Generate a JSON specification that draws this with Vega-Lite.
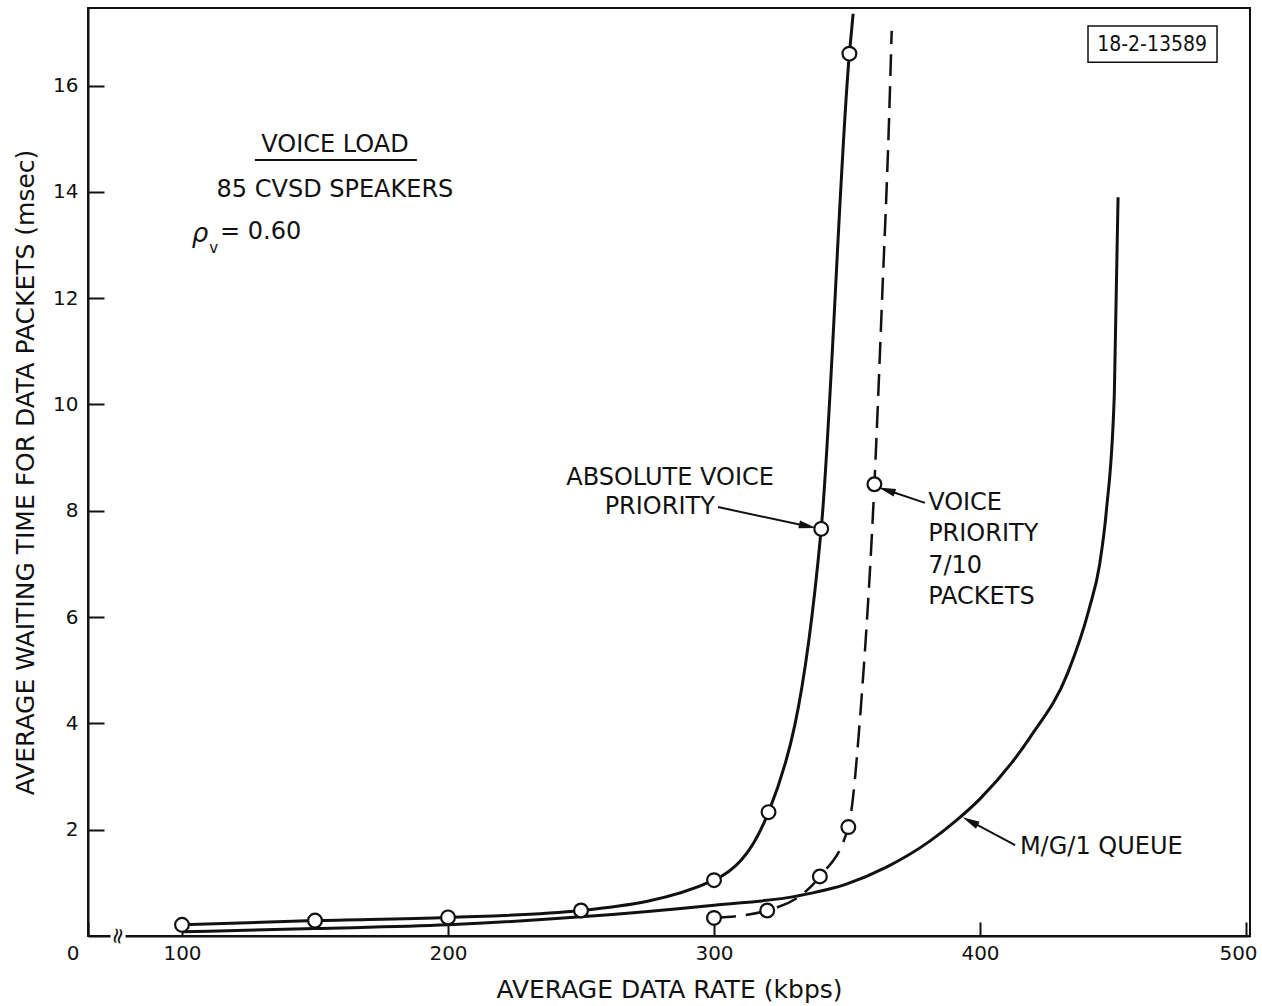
{
  "$schema": "https://vega.github.io/schema/vega-lite/v6.json",
  "width": 1162,
  "height": 928,
  "autosize": "none",
  "padding": {"left": 88, "top": 8, "right": 12, "bottom": 70},
  "background": "white",
  "config": {
    "view": {"stroke": "#111", "strokeWidth": 2},
    "font": "DejaVu Sans",
    "axis": {"grid": false, "domainColor": "#111", "domainWidth": 2, "tickColor": "#111", "tickWidth": 2, "labelColor": "#111", "titleColor": "#111", "labelFont": "DejaVu Sans", "titleFont": "DejaVu Sans", "labelFontSize": 20, "titleFontSize": 25, "titleFontWeight": "normal"}
  },
  "datasets": {
    "curves": [
      {"series": "abs", "x": 100, "y": 0.21},
      {"series": "abs", "x": 150, "y": 0.29},
      {"series": "abs", "x": 200, "y": 0.35},
      {"series": "abs", "x": 250, "y": 0.48},
      {"series": "abs", "x": 300, "y": 1.05},
      {"series": "abs", "x": 320.5, "y": 2.33},
      {"series": "abs", "x": 340.3, "y": 7.66},
      {"series": "abs", "x": 350.9, "y": 16.6},
      {"series": "abs", "x": 352.3, "y": 17.35},
      {"series": "mg1", "x": 100, "y": 0.08},
      {"series": "mg1", "x": 150, "y": 0.14},
      {"series": "mg1", "x": 200, "y": 0.21},
      {"series": "mg1", "x": 250, "y": 0.36},
      {"series": "mg1", "x": 300, "y": 0.58},
      {"series": "mg1", "x": 331, "y": 0.75},
      {"series": "mg1", "x": 350, "y": 0.98},
      {"series": "mg1", "x": 365, "y": 1.3},
      {"series": "mg1", "x": 381, "y": 1.78},
      {"series": "mg1", "x": 391, "y": 2.17},
      {"series": "mg1", "x": 400, "y": 2.58},
      {"series": "mg1", "x": 419, "y": 3.75},
      {"series": "mg1", "x": 433, "y": 4.95},
      {"series": "mg1", "x": 441, "y": 6.15},
      {"series": "mg1", "x": 445, "y": 7.0},
      {"series": "mg1", "x": 447.5, "y": 8.0},
      {"series": "mg1", "x": 450.5, "y": 10.2},
      {"series": "mg1", "x": 451.9, "y": 13.9},
      {"series": "vp", "x": 300, "y": 0.34},
      {"series": "vp", "x": 320, "y": 0.48},
      {"series": "vp", "x": 339.8, "y": 1.12},
      {"series": "vp", "x": 350.5, "y": 2.05},
      {"series": "vp", "x": 355.5, "y": 4.5},
      {"series": "vp", "x": 360.3, "y": 8.5},
      {"series": "vp", "x": 363.2, "y": 12.0},
      {"series": "vp", "x": 365.8, "y": 15.35},
      {"series": "vp", "x": 366.8, "y": 17.03}
    ],
    "points": [
      {"series": "abs", "x": 100, "y": 0.21},
      {"series": "abs", "x": 150, "y": 0.29},
      {"series": "abs", "x": 200, "y": 0.35},
      {"series": "abs", "x": 250, "y": 0.48},
      {"series": "abs", "x": 300, "y": 1.05},
      {"series": "abs", "x": 320.5, "y": 2.33},
      {"series": "abs", "x": 340.3, "y": 7.66},
      {"series": "abs", "x": 350.9, "y": 16.6},
      {"series": "vp", "x": 300, "y": 0.34},
      {"series": "vp", "x": 320, "y": 0.48},
      {"series": "vp", "x": 339.8, "y": 1.12},
      {"series": "vp", "x": 350.5, "y": 2.05},
      {"series": "vp", "x": 360.3, "y": 8.5}
    ],
    "rules": [
      {"x": 301.5, "y": 8.07, "x2": 335.2, "y2": 7.71},
      {"x": 379.3, "y": 8.15, "x2": 364.9, "y2": 8.39},
      {"x": 413.2, "y": 1.71, "x2": 396.3, "y2": 2.16},
      {"x": 127.4, "y": 14.6, "x2": 188.3, "y2": 14.6}
    ],
    "heads": [
      {"id": "a", "x": 335.2, "y": 7.71},
      {"id": "b", "x": 364.9, "y": 8.39},
      {"id": "c", "x": 396.3, "y": 2.16}
    ],
    "centered": [
      {"text": "VOICE LOAD", "x": 157.5, "y": 14.88},
      {"text": "85 CVSD  SPEAKERS", "x": 157.5, "y": 14.04},
      {"text": "ABSOLUTE VOICE", "x": 283.5, "y": 8.62},
      {"text": "PRIORITY", "x": 279.6, "y": 8.07}
    ],
    "lefttext": [
      {"text": "VOICE", "x": 380.5, "y": 8.15},
      {"text": "PRIORITY", "x": 380.5, "y": 7.56},
      {"text": "7/10", "x": 380.5, "y": 6.96},
      {"text": "PACKETS", "x": 380.5, "y": 6.38},
      {"text": "M/G/1  QUEUE", "x": 415.0, "y": 1.67},
      {"text": "= 0.60", "x": 114.3, "y": 13.25}
    ]
  },
  "layer": [
    {
      "data": {"name": "curves"},
      "transform": [{"filter": "datum.series != 'vp'"}],
      "mark": {"type": "line", "color": "#111", "strokeWidth": 3, "interpolate": "monotone"},
      "encoding": {
        "x": {"field": "x", "type": "quantitative",
          "scale": {"type": "linear", "domain": [0, 100, 501.5], "range": [0, 94, 1162], "zero": false, "nice": false},
          "axis": {"values": [0, 100, 200, 300, 400, 500], "title": "AVERAGE DATA RATE (kbps)", "tickSize": -14, "labelPadding": 21, "titlePadding": 14,
            "labelAlign": {"condition": {"test": "datum.value == 0", "value": "right"}, "value": "center"},
            "labelOffset": {"condition": [{"test": "datum.value == 0", "value": -9}, {"test": "datum.value == 500", "value": -8}], "value": 0}}},
        "y": {"field": "y", "type": "quantitative",
          "scale": {"domain": [0, 17.46], "zero": false, "nice": false},
          "axis": {"values": [2, 4, 6, 8, 10, 12, 14, 16], "title": "AVERAGE WAITING TIME FOR DATA PACKETS (msec)", "tickSize": -16, "labelPadding": 26, "titlePadding": 14}},
        "detail": {"field": "series"}
      }
    },
    {
      "data": {"name": "curves"},
      "transform": [{"filter": "datum.series == 'vp'"}],
      "mark": {"type": "line", "color": "#111", "strokeWidth": 2.5, "strokeDash": [22, 10], "interpolate": "monotone"},
      "encoding": {
        "x": {"field": "x", "type": "quantitative"},
        "y": {"field": "y", "type": "quantitative"}
      }
    },
    {
      "data": {"name": "points"},
      "mark": {"type": "point", "shape": "circle", "size": 190, "fill": "white", "fillOpacity": 1, "stroke": "#111", "strokeWidth": 2.2, "opacity": 1},
      "encoding": {
        "x": {"field": "x", "type": "quantitative"},
        "y": {"field": "y", "type": "quantitative"}
      }
    },
    {
      "data": {"name": "rules"},
      "mark": {"type": "rule", "color": "#111", "strokeWidth": 2},
      "encoding": {
        "x": {"field": "x", "type": "quantitative"},
        "y": {"field": "y", "type": "quantitative"},
        "x2": {"field": "x2"},
        "y2": {"field": "y2"}
      }
    },
    {
      "data": {"name": "heads"},
      "transform": [{"filter": "datum.id == 'a'"}],
      "mark": {"type": "point", "shape": "M-1,-0.45L1,0L-1,0.45Z", "angle": 12, "size": 300, "filled": true, "color": "#111", "opacity": 1},
      "encoding": {"x": {"field": "x", "type": "quantitative"}, "y": {"field": "y", "type": "quantitative"}}
    },
    {
      "data": {"name": "heads"},
      "transform": [{"filter": "datum.id == 'b'"}],
      "mark": {"type": "point", "shape": "M-1,-0.45L1,0L-1,0.45Z", "angle": 198, "size": 300, "filled": true, "color": "#111", "opacity": 1},
      "encoding": {"x": {"field": "x", "type": "quantitative"}, "y": {"field": "y", "type": "quantitative"}}
    },
    {
      "data": {"name": "heads"},
      "transform": [{"filter": "datum.id == 'c'"}],
      "mark": {"type": "point", "shape": "M-1,-0.45L1,0L-1,0.45Z", "angle": 208, "size": 300, "filled": true, "color": "#111", "opacity": 1},
      "encoding": {"x": {"field": "x", "type": "quantitative"}, "y": {"field": "y", "type": "quantitative"}}
    },
    {
      "data": {"name": "centered"},
      "mark": {"type": "text", "font": "DejaVu Sans", "fontSize": 24, "align": "center", "baseline": "middle", "color": "#111"},
      "encoding": {"x": {"field": "x", "type": "quantitative"}, "y": {"field": "y", "type": "quantitative"}, "text": {"field": "text"}}
    },
    {
      "data": {"name": "lefttext"},
      "mark": {"type": "text", "font": "DejaVu Sans", "fontSize": 24, "align": "left", "baseline": "middle", "color": "#111"},
      "encoding": {"x": {"field": "x", "type": "quantitative"}, "y": {"field": "y", "type": "quantitative"}, "text": {"field": "text"}}
    },
    {
      "data": {"values": [{"text": "ρ", "x": 106.8, "y": 13.21}]},
      "mark": {"type": "text", "font": "DejaVu Sans", "fontSize": 26, "fontStyle": "italic", "align": "center", "baseline": "middle", "color": "#111"},
      "encoding": {"x": {"field": "x", "type": "quantitative"}, "y": {"field": "y", "type": "quantitative"}, "text": {"field": "text"}}
    },
    {
      "data": {"values": [{"text": "v", "x": 111.9, "y": 12.94}]},
      "mark": {"type": "text", "font": "DejaVu Sans", "fontSize": 15, "align": "center", "baseline": "middle", "color": "#111"},
      "encoding": {"x": {"field": "x", "type": "quantitative"}, "y": {"field": "y", "type": "quantitative"}, "text": {"field": "text"}}
    },
    {
      "data": {"values": [{"x": 440.6, "x2": 489.1, "y": 17.12, "y2": 16.44}]},
      "mark": {"type": "rect", "fill": "white", "stroke": "#111", "strokeWidth": 1.5},
      "encoding": {"x": {"field": "x", "type": "quantitative"}, "x2": {"field": "x2"}, "y": {"field": "y", "type": "quantitative"}, "y2": {"field": "y2"}}
    },
    {
      "data": {"values": [{"text": "18-2-13589", "x": 464.7, "y": 16.76}]},
      "mark": {"type": "text", "font": "DejaVu Sans Condensed", "fontSize": 21, "align": "center", "baseline": "middle", "color": "#111"},
      "encoding": {"x": {"field": "x", "type": "quantitative"}, "y": {"field": "y", "type": "quantitative"}, "text": {"field": "text"}}
    },
    {
      "data": {"values": [{"x": 24, "x2": 40, "y": -0.12, "y2": 0.12}]},
      "mark": {"type": "rect", "fill": "white", "stroke": null},
      "encoding": {"x": {"field": "x", "type": "quantitative"}, "x2": {"field": "x2"}, "y": {"field": "y", "type": "quantitative"}, "y2": {"field": "y2"}}
    },
    {
      "data": {"values": [{"text": "≈", "x": 32, "y": 0}]},
      "mark": {"type": "text", "font": "DejaVu Sans", "fontSize": 22, "angle": 100, "align": "center", "baseline": "middle", "color": "#111"},
      "encoding": {"x": {"field": "x", "type": "quantitative"}, "y": {"field": "y", "type": "quantitative"}, "text": {"field": "text"}}
    }
  ]
}
